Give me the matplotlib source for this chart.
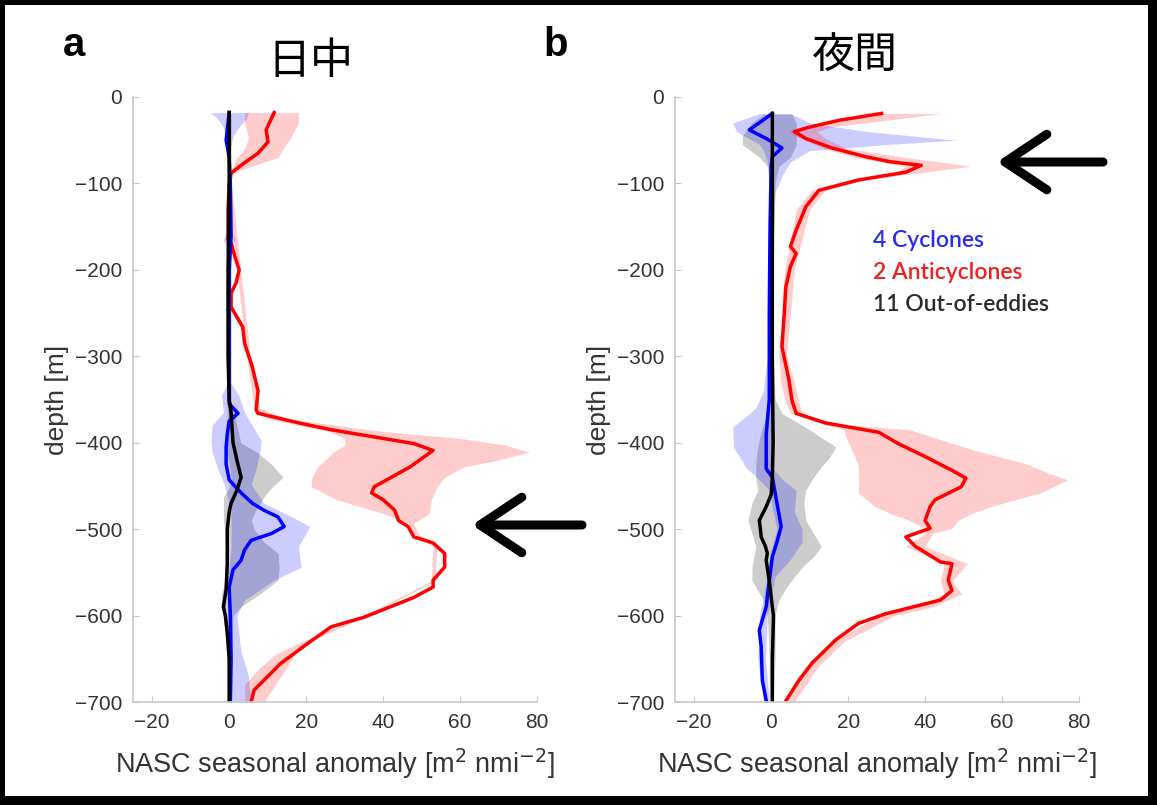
import matplotlib
matplotlib.use("Agg")
import matplotlib.pyplot as plt
from matplotlib.patches import Rectangle, FancyArrowPatch

# ---- panel a (day) ----
red_a_depth = [-18, -38, -52, -65, -79, -88, -100, -130, -165, -169, -185, -200, -215, -227, -243, -266, -285, -312,
               -340, -362, -366, -377, -385, -401, -409, -428, -451, -458, -466, -478, -490, -497, -509, -516, -528,
               -544, -559, -567, -579, -602, -613, -632, -655, -675, -686, -700]
red_a_val = [11.7, 9.6, 10.1, 7.5, 3.1, 0.5, 0, -0.3, -0.3, 0.5, 1.5, 2.6, 1.8, 0.5, 0.5, 3.5, 4, 6,
             7.5, 7, 7.5, 18, 26.5, 48, 53, 47, 37.7, 37, 40, 43, 44, 46.5, 48, 53, 56,
             56, 53, 53, 48, 35, 26.5, 20.5, 13.5, 9, 6.5, 5.7]
red_a_band_depth = [-18, -30, -47, -60, -70, -80, -88, -100, -200, -300, -360, -372, -380, -387, -395, -403, -411,
                    -420, -428, -440, -451, -466, -482, -493, -505, -520, -560, -600, -630, -645, -660, -680, -700]
red_a_lo = [4, 4, 5, 4, 2, 1, 0, -0.5, 2, 4.5, 6.5, 10, 18, 26, 30, 30, 27,
            25, 23, 21.5, 21.3, 28, 40, 46.5, 48, 53, 52.5, 35, 19, 12, 8, 4, 4]
red_a_hi = [18, 18, 16, 14, 12.7, 6, 1, 0.5, 3, 5.5, 8, 15, 28, 40, 60, 72, 78,
            70, 61, 56, 54, 52.5, 52, 48, 49, 54, 53.5, 36, 21, 17, 15, 12, 9]

blue_a_depth = [-18, -30, -50, -70, -100, -160, -200, -300, -340, -355, -366, -375, -390, -405, -425, -443, -458,
                -470, -478, -486, -497, -505, -513, -524, -536, -547, -567, -600, -650, -700]
blue_a_val = [0, -0.3, -0.8, 0, 0.3, 0.5, 0, 0, 0, 0, 2.3, 0, -0.5, -0.8, -0.8, 0, 3.1,
              6, 9, 12.7, 14.3, 11, 5.7, 4, 3.1, 1, 0, 0.3, 0.5, 0.3]
blue_a_band_depth = [-18, -25, -35, -45, -60, -150, -165, -180, -330, -345, -365, -380, -397, -410, -430, -448,
                     -470, -485, -497, -520, -544, -559, -582, -600, -640, -670, -700]
blue_a_lo = [-5, -3, -1.5, -1, -0.3, -0.3, -1.5, -0.3, -0.3, -2, -1.5, -4.5, -4.7, -4.5, -3, -1.3,
             0, 0.5, 0.5, 0.5, 0, -0.5, -0.5, -0.3, -0.5, -0.5, -0.5]
blue_a_hi = [5, 4.5, 2.5, 1, 0.3, 0.3, 1.5, 0.3, 0.3, 2.5, 4, 6, 8.3, 8, 7, 5.7,
             9, 16, 21, 18, 18.7, 11.7, 4, 2, 3, 5, 5.7]

gray_a_band_depth = [-20, -100, -350, -400, -412, -425, -440, -452, -463, -477, -490, -500, -515, -528, -545,
                     -559, -575, -590, -600, -650, -700]
gray_a_lo = [-0.5, -0.5, -0.5, -0.5, -0.5, 0, 0.5, 0, -1.5, -1.5, -1.5, -1.2, -1, -1, -1,
             -1, -2, -2.2, -1.5, -0.5, -0.5]
gray_a_hi = [0.5, 0.5, 0.5, 3, 7.5, 11, 14, 11, 9, 7, 5.7, 6.5, 9, 12.7, 13,
             12.7, 8, 3, 1, 0.5, 0.5]

black_a_depth = [-18, -100, -200, -300, -350, -366, -400, -420, -440, -455, -470, -480, -500, -540, -570, -590,
                 -600, -620, -650, -700]
black_a_val = [0, 0, -0.3, -0.3, 0, 0.5, 1, 2, 3.1, 2, 0.5, 0, -0.5, -0.5, -0.8, -1.5,
               -1, -0.5, 0, 0]

# ---- panel b (night) ----
red_b_depth = [-19, -27, -35, -40, -48, -59, -69, -75, -79, -87, -96, -108, -127, -154, -173, -181, -196, -220,
               -250, -289, -327, -351, -366, -377, -388, -401, -416, -432, -441, -451, -466, -474, -490, -499,
               -509, -520, -538, -540, -559, -571, -582, -598, -609, -628, -655, -675, -698]
red_b_val = [28.7, 17.6, 9.8, 6, 9, 15.8, 24.5, 31, 39, 35, 22.7, 12.4, 9, 6.5, 5, 6.5, 5, 3.8,
             3.4, 2.8, 4.6, 5.4, 6.5, 14, 28, 33, 40, 47, 50.6, 49.4, 42.6, 41.3, 40, 41.3,
             35, 37.5, 44, 47, 46, 47, 44, 29.7, 22.7, 16.8, 10.6, 7.2, 3.9]
red_b_band_depth = [-19, -27, -35, -40, -48, -60, -70, -80, -88, -96, -108, -130, -200, -300, -330, -350, -366,
                    -378, -385, -393, -409, -424, -435, -443, -458, -474, -482, -490, -499, -505, -520, -540,
                    -560, -575, -590, -600, -630, -660, -700]
red_b_lo = [27, 16, 8.5, 4.5, 7.5, 14, 22, 35, 32, 20, 10.5, 6.5, 3.5, 2, 2.5, 3.5, 5,
            13, 19, 19.4, 21, 22.5, 22.7, 22.7, 22.7, 27, 31, 36, 40, 40, 35, 45,
            44, 45, 38, 28, 16, 9, 3]
red_b_hi = [44, 30, 15, 12, 14, 20, 35, 52, 38, 24, 14, 10, 6, 4, 6, 7, 8,
            16, 36, 41.6, 53, 66, 72, 77, 70, 57, 52, 48.6, 47, 42, 40, 51,
            47, 49.5, 42, 32, 19, 12, 6]

blue_b_depth = [-19, -28, -38, -48, -59, -69, -80, -150, -250, -350, -390, -430, -440, -470, -497, -515, -532,
                -560, -590, -617, -636, -675, -698]
blue_b_val = [0.3, -2.5, -5.7, -1.3, 2.8, 0.3, 0, -0.3, -0.5, -0.5, -1.3, -1.3, 0.3, 1.5, 2.6, 1.5, 0.3,
              -0.5, -1.3, -3.1, -2.6, -2.3, -1.3]
blue_b_band_depth = [-19, -30, -40, -50, -55, -62, -75, -90, -110, -200, -300, -340, -360, -382, -405, -429,
                     -443, -455, -480, -500, -515, -535, -555, -600, -650, -700]
blue_b_lo = [-3, -10, -9, -5, -3, -2, -1, -0.5, -0.5, -0.8, -1, -2, -4, -10, -9.8, -6.5,
             -3, -0.5, 0.5, 1.5, 0.5, -0.5, -1, -3, -3.5, -2]
blue_b_hi = [5, 10, 25, 48, 30, 10, 5, 3, 1, 0.2, 0.2, 0.3, 0.5, 0, 0, 0.3,
             3, 6.5, 6, 8, 8, 5, 1, -1, -1.5, -0.5]

gray_b_band_depth = [-20, -30, -45, -55, -70, -80, -100, -200, -300, -350, -366, -385, -405, -418, -428, -440,
                     -455, -470, -490, -505, -520, -532, -544, -559, -567, -575, -582, -600, -650, -700]
gray_b_lo = [-2, -5, -7.5, -7.5, -3, -1, -0.5, -0.5, -0.5, -0.5, -1, -2.5, -3.5, -3.9, -4, -4,
             -3.5, -5, -6, -5, -4, -4.5, -5, -5, -4, -3, -2, -1, -0.5, -0.5]
gray_b_hi = [5.4, 6.5, 6.5, 6.5, 5, 2, 1, 0.5, 0.5, 1, 2.8, 10, 16.8, 15, 13, 11,
             9, 8.5, 9, 11, 13, 11, 8, 5.4, 4, 3, 2, 1, 1, 0.5]

black_b_depth = [-19, -100, -200, -300, -400, -440, -460, -474, -490, -500, -509, -520, -528, -536, -560, -590,
                 -600, -650, -700]
black_b_val = [0.3, 0.3, 0.3, 0.3, 0.5, 0.3, 0, -1.3, -3.1, -2.8, -2.6, -1.5, -1, -1.3, -0.5, 0.3,
               0.6, 0.3, 0.3]

xticks = [-20, 0, 20, 40, 60, 80]
yticks = [0, -100, -200, -300, -400, -500, -600, -700]
legend_labels = ["4 Cyclones", "2 Anticyclones", "11 Out-of-eddies"]

W, H = 1157, 805
fig = plt.figure(figsize=(W / 100, H / 100), dpi=100)
fig.patch.set_facecolor("black")
fig.patches.append(Rectangle((5 / W, 9 / H), (W - 14) / W, (H - 14) / H, transform=fig.transFigure,
                             facecolor="white", edgecolor="none", zorder=-10))

plt.rcParams["font.family"] = ["Liberation Sans", "DejaVu Sans"]


def draw_panel(ax, red, blue, gray, black):
    ax.fill_betweenx(gray[0], gray[1], gray[2], color="black", alpha=0.2, lw=0)
    ax.fill_betweenx(blue[0], blue[1], blue[2], color="blue", alpha=0.2, lw=0)
    ax.fill_betweenx(red[0], red[1], red[2], color="red", alpha=0.2, lw=0)
    ax.plot(red[4], red[3], color="red", lw=2.5)
    ax.plot(blue[4], blue[3], color="blue", lw=2.5)
    ax.plot(black[1], black[0], color="black", lw=2.5)
    ax.set_xlim(-25, 80)
    ax.set_ylim(-700, 0)
    ax.set_xticks(xticks)
    ax.set_yticks(yticks)
    for s in ["top", "right"]:
        ax.spines[s].set_visible(False)
    for s in ["left", "bottom"]:
        ax.spines[s].set_color("#c8c8c8")
        ax.spines[s].set_linewidth(1.2)
    ax.tick_params(direction="in", length=4, color="#c8c8c8", labelsize=15, labelcolor="#333333", pad=8)
    ax.set_xlabel("NASC seasonal anomaly [m$^2$ nmi$^{-2}$]", fontsize=19.5, color="#333333", labelpad=10)
    ax.set_ylabel("depth [m]", fontsize=19, color="#333333", labelpad=4)


ax_a = fig.add_axes([133 / W, 1 - 702 / H, 404 / W, 605 / H])
draw_panel(ax_a,
           (red_a_band_depth, red_a_lo, red_a_hi, red_a_depth, red_a_val),
           (blue_a_band_depth, blue_a_lo, blue_a_hi, blue_a_depth, blue_a_val),
           (gray_a_band_depth, gray_a_lo, gray_a_hi),
           (black_a_depth, black_a_val))

ax_b = fig.add_axes([675 / W, 1 - 702 / H, 404 / W, 605 / H])
draw_panel(ax_b,
           (red_b_band_depth, red_b_lo, red_b_hi, red_b_depth, red_b_val),
           (blue_b_band_depth, blue_b_lo, blue_b_hi, blue_b_depth, blue_b_val),
           (gray_b_band_depth, gray_b_lo, gray_b_hi),
           (black_b_depth, black_b_val))

# legend text in panel b
for i, (lab, col) in enumerate(zip(legend_labels, ["#2a2af5", "#f02020", "#2b2b2b"])):
    ax_b.text(26.5, -166 - 37 * i, lab, color=col, fontsize=16.5, fontweight="semibold",
              family=["Lato", "DejaVu Sans"], va="center")

# panel letters and titles
fig.text(74 / W, 1 - 45 / H, "a", fontsize=29, fontweight="bold", ha="center", va="center")
fig.text(556 / W, 1 - 45 / H, "b", fontsize=29, fontweight="bold", ha="center", va="center")
fig.text(310 / W, 1 - 62 / H, "日中", fontsize=31, family=["Noto Sans CJK JP", "DejaVu Sans"],
         ha="center", va="center")
fig.text(855 / W, 1 - 57 / H, "夜間", fontsize=31, family=["Noto Sans CJK JP", "DejaVu Sans"],
         ha="center", va="center")

# arrows
arrow_style = dict(arrowstyle="->,head_length=0.75,head_width=0.5", lw=6.5, color="black",
                   mutation_scale=40, shrinkA=0, shrinkB=0, capstyle="round", joinstyle="round")
fig.add_artist(FancyArrowPatch((582 / W, 1 - 525 / H), (472 / W, 1 - 525 / H),
                               transform=fig.transFigure, **arrow_style))
fig.add_artist(FancyArrowPatch((1103 / W, 1 - 162 / H), (997 / W, 1 - 162 / H),
                               transform=fig.transFigure, **arrow_style))

fig.savefig("out.png", dpi=100, facecolor=fig.get_facecolor())
